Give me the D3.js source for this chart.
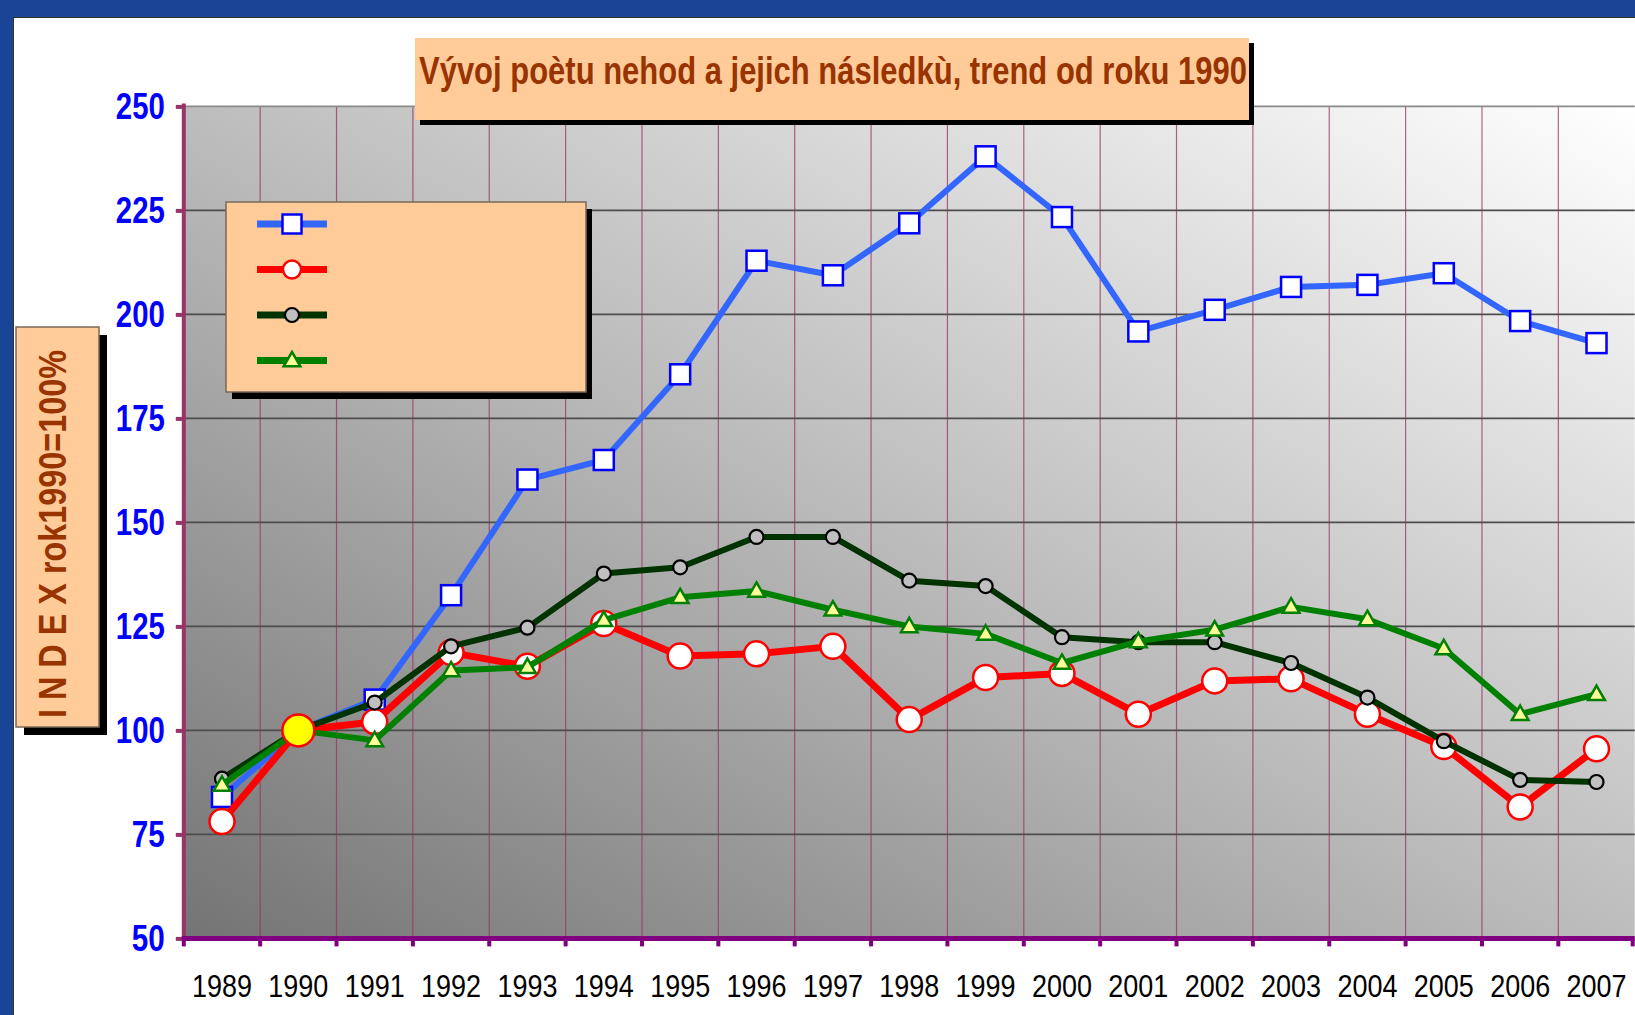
<!DOCTYPE html>
<html><head><meta charset="utf-8">
<script src="https://cdn.jsdelivr.net/npm/d3@7"></script>
<style>html,body{margin:0;padding:0;background:#fff;overflow:hidden}</style>
</head><body><svg id="c" width="1635" height="1015"></svg>
<script>
const years = ["1989","1990","1991","1992","1993","1994","1995","1996","1997","1998","1999","2000","2001","2002","2003","2004","2005","2006","2007"];
const yTicks = [50,75,100,125,150,175,200,225,250];
const seriesBlue  = [84,100,107.4,132.5,160.3,165,185.6,212.9,209.4,221.9,238,223.4,195.9,201.1,206.6,207.1,209.9,198.4,193.1];
const seriesRed   = [78.1,100,102.1,118.7,115.4,125.7,117.9,118.4,120.2,102.6,112.7,113.7,103.9,111.9,112.4,103.9,96.1,81.6,95.6];
const seriesDark  = [88.4,100,106.7,120.2,124.7,137.7,139.2,146.5,146.5,136,134.7,122.4,121.2,121.2,116.2,107.9,97.4,88.1,87.6];
const seriesGreen = [86.9,100,97.6,114.4,115.2,126.5,132,133.5,129,125,123.2,116.2,121.4,124.2,129.7,126.7,119.7,103.9,108.7];
const legendLabels = ["","","",""];
const titleText = "Vývoj poètu nehod a jejich následkù, trend od roku 1990";
const yAxisLabel = "I N D E X rok1990=100%";
const baseYear = "1990";

const FONT = "'Liberation Sans Narrow', 'Liberation Sans', Arial, sans-serif";
const svg = d3.select("#c");
const W = 1635, H = 1015;
const plot = {left: 183.8, right: 1634.7, top: 106.4, bottom: 938.4};

const x = d3.scaleBand().domain(years).range([plot.left, plot.right]).padding(0);
const y = d3.scaleLinear().domain([50, 250]).range([plot.bottom, plot.top]);

// page
svg.append("rect").attr("width", W).attr("height", H).attr("fill", "#fff");
svg.append("rect").attr("x", 0).attr("y", 0).attr("width", W).attr("height", 17).attr("fill", "#1A4597");
svg.append("rect").attr("x", 0).attr("y", 0).attr("width", 13).attr("height", H).attr("fill", "#1A4597");
svg.append("line").attr("x1", 13).attr("x2", W).attr("y1", 17.5).attr("y2", 17.5).attr("stroke", "#333").attr("stroke-width", 1);
svg.append("line").attr("x1", 13.5).attr("x2", 13.5).attr("y1", 17).attr("y2", H).attr("stroke", "#333").attr("stroke-width", 1);

// gradient
const defs = svg.append("defs");
const grad = defs.append("linearGradient").attr("id", "bg").attr("x1", 0).attr("y1", 1).attr("x2", 1).attr("y2", 0);
grad.append("stop").attr("offset", "0%").attr("stop-color", "#747474");
grad.append("stop").attr("offset", "50%").attr("stop-color", "#bdbdbd");
grad.append("stop").attr("offset", "100%").attr("stop-color", "#ffffff");

svg.append("rect").attr("x", plot.left).attr("y", plot.top)
  .attr("width", plot.right - plot.left).attr("height", plot.bottom - plot.top)
  .attr("fill", "url(#bg)");

// vertical gridlines at band boundaries
svg.append("g").selectAll("line").data(years.slice(1)).join("line")
  .attr("x1", d => x(d)).attr("x2", d => x(d))
  .attr("y1", plot.top).attr("y2", plot.bottom)
  .attr("stroke", "#993366").attr("stroke-width", 1.2).attr("opacity", 0.75);

// horizontal gridlines
svg.append("g").selectAll("line").data(yTicks.slice(1)).join("line")
  .attr("x1", plot.left).attr("x2", plot.right)
  .attr("y1", d => y(d)).attr("y2", d => y(d))
  .attr("stroke", d => d === 250 ? "#8a8a8a" : "#4d4d4d").attr("stroke-width", 1.6);

// series
const series = [
  {vals: seriesBlue,  color: "#3366FF", width: 6, marker: "square"},
  {vals: seriesRed,   color: "#FF0000", width: 7, marker: "circleBig"},
  {vals: seriesDark,  color: "#003300", width: 6, marker: "circleSmall"},
  {vals: seriesGreen, color: "#008000", width: 6, marker: "triangle"}
];
const cx = d => x(d) + x.bandwidth() / 2;
const line = d3.line().x(d => cx(d.year)).y(d => y(d.v));

function drawMarker(g, type, px, py, legend) {
  if (type === "square") {
    const s = legend ? 19 : 20;
    g.append("rect").attr("x", px - s/2).attr("y", py - s/2).attr("width", s).attr("height", s)
      .attr("fill", "#fff").attr("stroke", "#0000FF").attr("stroke-width", 2.5);
  } else if (type === "circleBig") {
    g.append("circle").attr("cx", px).attr("cy", py).attr("r", legend ? 9 : 12.5)
      .attr("fill", "#fff").attr("stroke", "#FF0000").attr("stroke-width", 2.5);
  } else if (type === "circleSmall") {
    g.append("circle").attr("cx", px).attr("cy", py).attr("r", 7)
      .attr("fill", "#c0c0c0").attr("stroke", "#000").attr("stroke-width", 2.2);
  } else if (type === "triangle") {
    g.append("path").attr("d", d3.symbol(d3.symbolTriangle, 120)())
      .attr("transform", `translate(${px},${py + 1})`)
      .attr("fill", "#FFFF99").attr("stroke", "#008000").attr("stroke-width", 2.5);
  }
}

series.forEach(s => {
  const pts = years.map((yr, i) => ({year: yr, v: s.vals[i]}));
  const g = svg.append("g");
  g.append("path").datum(pts).attr("d", line).attr("fill", "none")
    .attr("stroke", s.color).attr("stroke-width", s.width).attr("stroke-linejoin", "round");
  pts.forEach(p => {
    if (p.year === baseYear) return;
    drawMarker(g, s.marker, cx(p.year), y(p.v), false);
  });
});
// base year marker
svg.append("circle").attr("cx", cx(baseYear)).attr("cy", y(seriesRed[years.indexOf(baseYear)]))
  .attr("r", 16).attr("fill", "#FFFF00").attr("stroke", "#FF0000").attr("stroke-width", 2.5);

// y axis
const yAxis = d3.axisLeft(y).tickValues(yTicks).tickSize(8).tickPadding(11).tickFormat(d3.format("d"));
const gy = svg.append("g").attr("transform", `translate(${plot.left},0)`).call(yAxis);
gy.select(".domain").attr("stroke", "#993366").attr("stroke-width", 4).attr("d", `M0,${plot.top - 3}V${plot.bottom}`);
gy.selectAll(".tick line").attr("stroke", "#993366").attr("stroke-width", 4);
gy.selectAll(".tick text").attr("fill", "#0000FF").attr("font-family", FONT)
  .attr("font-size", 36).attr("font-weight", "bold").attr("dy", "0.34em")
  .attr("textLength", d => String(d).length === 3 ? 49 : 33).attr("lengthAdjust", "spacingAndGlyphs");

// x axis
const xAxis = d3.axisBottom(x).tickSize(0).tickPadding(36);
const gx = svg.append("g").attr("transform", `translate(0,${plot.bottom})`).call(xAxis);
gx.select(".domain").remove();
gx.selectAll(".tick text").attr("fill", "#000").attr("font-family", FONT)
  .attr("font-size", 32).attr("textLength", 60).attr("lengthAdjust", "spacingAndGlyphs");
svg.append("line").attr("x1", plot.left - 2).attr("x2", plot.right).attr("y1", plot.bottom).attr("y2", plot.bottom)
  .attr("stroke", "#800080").attr("stroke-width", 5);
svg.append("g").selectAll("line").data(years.concat(["end"])).join("line")
  .attr("x1", d => d === "end" ? plot.right - 2 : x(d)).attr("x2", d => d === "end" ? plot.right - 2 : x(d))
  .attr("y1", plot.bottom).attr("y2", plot.bottom + 8)
  .attr("stroke", "#800080").attr("stroke-width", 4);

// boxes
function box(x0, y0, w, h, dx, dy, border) {
  svg.append("rect").attr("x", x0 + dx).attr("y", y0 + dy).attr("width", w).attr("height", h).attr("fill", "#000");
  svg.append("rect").attr("x", x0).attr("y", y0).attr("width", w).attr("height", h).attr("fill", "#FFCC99")
    .attr("stroke", border ? "#7a6a5a" : "none").attr("stroke-width", border ? 1.5 : 0);
}
box(415, 38, 834, 82, 5, 5, false);
svg.append("text").attr("x", 833).attr("y", 84).attr("text-anchor", "middle")
  .attr("font-family", FONT).attr("font-weight", "bold").attr("font-size", 39)
  .attr("fill", "#993300").attr("textLength", 828).attr("lengthAdjust", "spacingAndGlyphs").text(titleText);

// legend
box(226, 202, 360, 190, 6, 7, true);
series.forEach((s, i) => {
  const ly = 224 + i * 45.5;
  const g = svg.append("g");
  g.append("line").attr("x1", 257).attr("x2", 327).attr("y1", ly).attr("y2", ly)
    .attr("stroke", s.color).attr("stroke-width", 7);
  drawMarker(g, s.marker, 292, ly, true);
  g.append("text").attr("x", 340).attr("y", ly + 10).attr("font-size", 28).text(legendLabels[i]);
});

// y-axis label box
box(16, 327, 83, 400, 8, 8, true);
svg.append("text").attr("transform", `translate(66,534) rotate(-90)`).attr("text-anchor", "middle")
  .attr("font-family", FONT).attr("font-weight", "bold").attr("font-size", 39)
  .attr("fill", "#993300").attr("textLength", 368).attr("lengthAdjust", "spacingAndGlyphs").text(yAxisLabel);
</script></body></html>
